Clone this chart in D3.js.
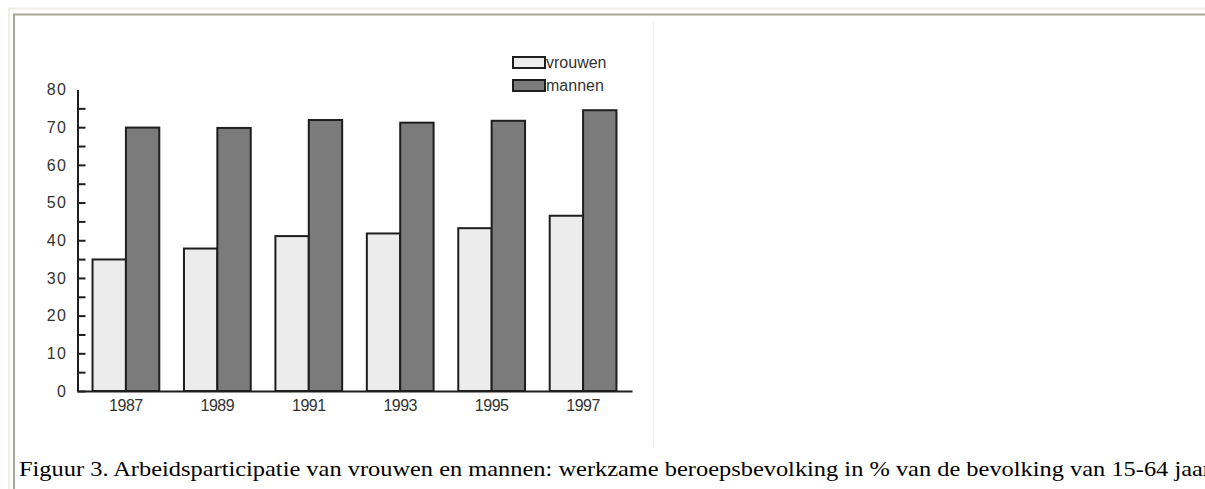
<!DOCTYPE html>
<html>
<head>
<meta charset="utf-8">
<script src="https://cdn.jsdelivr.net/npm/d3@7"></script>
<style>
  html, body { margin: 0; padding: 0; background: #fff; }
  svg { display: block; }
</style>
</head>
<body>
<svg id="chart" width="1205" height="489"></svg>
<script>
const years = ["1987", "1989", "1991", "1993", "1995", "1997"];
const seriesNames = ["vrouwen", "mannen"];
const vrouwen = [34.9, 37.8, 41.1, 41.8, 43.2, 46.5];
const mannen = [69.9, 69.8, 71.9, 71.2, 71.7, 74.5];
const yTicks = [0, 5, 10, 15, 20, 25, 30, 35, 40, 45, 50, 55, 60, 65, 70, 75, 80];
const caption = "Figuur 3. Arbeidsparticipatie van vrouwen en mannen: werkzame beroepsbevolking in % van de bevolking van 15-64 jaar";

const colors = { vrouwen: "#ececec", mannen: "#7b7b7b" };
const svg = d3.select("#chart");

// Frame
svg.append("line").attr("x1", 8).attr("x2", 1205).attr("y1", 8.5).attr("y2", 8.5)
  .attr("stroke", "#f1efe3").attr("stroke-width", 2);
svg.append("line").attr("x1", 9).attr("x2", 9).attr("y1", 8).attr("y2", 489)
  .attr("stroke", "#f1efe3").attr("stroke-width", 2);
svg.append("line").attr("x1", 13).attr("x2", 1205).attr("y1", 14.5).attr("y2", 14.5)
  .attr("stroke", "#a9a798").attr("stroke-width", 2);
svg.append("line").attr("x1", 14).attr("x2", 14).attr("y1", 14).attr("y2", 489)
  .attr("stroke", "#a9a798").attr("stroke-width", 2);
// Separator
svg.append("line").attr("x1", 653.5).attr("x2", 653.5).attr("y1", 22).attr("y2", 447)
  .attr("stroke", "#eeeeee").attr("stroke-width", 1);

const y = d3.scaleLinear().domain([0, 80]).range([391, 89.5]);
const x0 = d3.scaleBand().domain(years).range([77, 632]).paddingInner(0.27).paddingOuter(0.17);
const x1 = d3.scaleBand().domain(seriesNames).range([0, x0.bandwidth()]).padding(0);

const data = years.map((yr, i) => ({ year: yr, vrouwen: vrouwen[i], mannen: mannen[i] }));

// Bars
const g = svg.append("g");
g.selectAll("g.grp").data(data).join("g").attr("class", "grp")
  .attr("transform", d => `translate(${x0(d.year)},0)`)
  .selectAll("rect").data(d => seriesNames.map(k => ({ key: k, value: d[k] }))).join("rect")
  .attr("x", d => x1(d.key))
  .attr("y", d => y(d.value))
  .attr("width", x1.bandwidth())
  .attr("height", d => y(0) - y(d.value))
  .attr("fill", d => colors[d.key])
  .attr("stroke", "#1e1e1e")
  .attr("stroke-width", 2);

// Y axis
const yAxis = d3.axisLeft(y).tickValues(yTicks).tickSizeInner(-8).tickSizeOuter(0).tickPadding(10)
  .tickFormat(d => d % 10 === 0 ? d : "");
const ya = svg.append("g").attr("transform", "translate(77.5,0)").call(yAxis);
ya.attr("font-size", null).attr("font-family", null);
ya.select(".domain").attr("stroke", "#1e1e1e").attr("stroke-width", 2);
ya.selectAll(".tick line").attr("stroke", "#1e1e1e").attr("stroke-width", 2)
  .filter(d => d === 80).remove();
ya.selectAll(".tick text").style("font-family", "Arial, 'Liberation Sans', sans-serif")
  .style("font-size", "16px").attr("fill", "#333").attr("letter-spacing", 1.5);

// X axis
const xAxis = d3.axisBottom(x0).tickSize(0).tickSizeOuter(0).tickPadding(9);
const xa = svg.append("g").attr("transform", "translate(0,391)").call(xAxis);
xa.attr("font-size", null).attr("font-family", null);
xa.select(".domain").attr("stroke", "#1e1e1e").attr("stroke-width", 2);
xa.selectAll(".tick text").style("font-family", "Arial, 'Liberation Sans', sans-serif")
  .style("font-size", "16px").attr("fill", "#333").attr("letter-spacing", -0.5);

// Legend
const legend = svg.append("g").attr("transform", "translate(513,57)");
seriesNames.forEach((k, i) => {
  const lg = legend.append("g").attr("transform", `translate(0,${i * 23})`);
  lg.append("rect").attr("width", 32).attr("height", 11)
    .attr("fill", colors[k]).attr("stroke", "#1e1e1e").attr("stroke-width", 2);
  lg.append("text").attr("x", 33).attr("y", 11)
    .style("font-family", "Arial, 'Liberation Sans', sans-serif").style("font-size", "16px")
    .attr("fill", "#333").text(k);
});

// Caption
svg.append("text").attr("x", 19).attr("y", 476)
  .style("font-family", "'Liberation Serif', 'Times New Roman', serif")
  .style("font-size", "22px").attr("fill", "#000")
  .attr("textLength", 1192).attr("lengthAdjust", "spacingAndGlyphs")
  .text(caption);
</script>
</body>
</html>
